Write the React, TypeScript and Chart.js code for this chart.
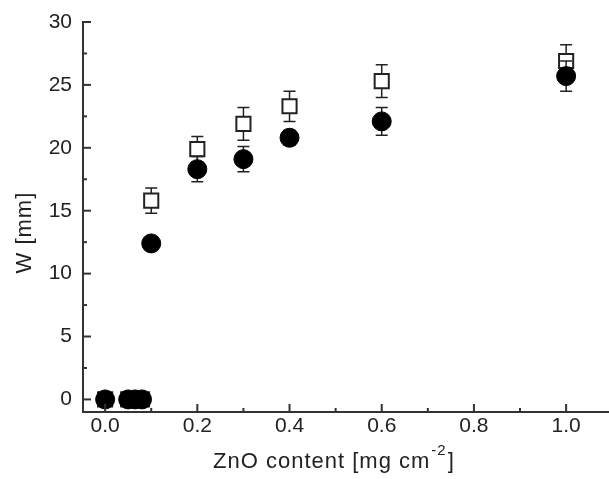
import React, { useEffect, useRef } from "react";
import { Chart, registerables } from "chart.js";

Chart.register(...registerables);

// ZnO content [mg cm^-2]
const znoContent = [0, 0.05, 0.065, 0.08, 0.1, 0.2, 0.3, 0.4, 0.6, 1.0];
// Filled circles
const wFilled = [0, 0, 0, 0, 12.4, 18.3, 19.1, 20.8, 22.1, 25.7];
const errFilled = [0, 0, 0, 0, 0.3, 1.0, 1.0, 0.6, 1.1, 1.2];
// Open squares
const wOpen = [0, 0, 0, 0, 15.8, 19.9, 21.9, 23.3, 25.3, 26.9];
const errOpen = [0, 0, 0, 0, 1.0, 1.0, 1.3, 1.2, 1.3, 1.3];

const xTickValues = [0, 0.1, 0.2, 0.3, 0.4, 0.5, 0.6, 0.7, 0.8, 0.9, 1.0];
const xMajorTicks = [0, 0.2, 0.4, 0.6, 0.8, 1.0];
const yTickValues = [0, 2.5, 5, 7.5, 10, 12.5, 15, 17.5, 20, 22.5, 25, 27.5, 30];
const yMajorTicks = [0, 5, 10, 15, 20, 25, 30];

const xTitleMain = "ZnO content [mg cm";
const xTitleSup = "-2";
const xTitleEnd = "]";
const yTitle = "W [mm]";

const FONT = "'Liberation Sans', Arial, sans-serif";
const INK = "#222";

const errorBarPlugin = {
  id: "errorBars",
  beforeDatasetDraw(chart: any, args: any) {
    const ds = chart.data.datasets[args.index];
    const errs: number[] = ds.errors;
    if (!errs) return;
    const { ctx } = chart;
    const ys = chart.scales.y;
    const meta = chart.getDatasetMeta(args.index);
    ctx.save();
    ctx.strokeStyle = INK;
    ctx.lineWidth = 1.5;
    meta.data.forEach((pt: any, i: number) => {
      const e = errs[i];
      if (!e) return;
      const v = ds.data[i].y;
      const top = ys.getPixelForValue(v + e);
      const bot = ys.getPixelForValue(v - e);
      const x = pt.x;
      ctx.beginPath();
      ctx.moveTo(x, top);
      ctx.lineTo(x, bot);
      ctx.moveTo(x - 6, top);
      ctx.lineTo(x + 6, top);
      ctx.moveTo(x - 6, bot);
      ctx.lineTo(x + 6, bot);
      ctx.stroke();
    });
    ctx.restore();
  },
};

const axisDecorPlugin = {
  id: "axisDecor",
  afterDraw(chart: any) {
    const { ctx, chartArea } = chart;
    const xs = chart.scales.x;
    const ys = chart.scales.y;
    ctx.save();
    ctx.strokeStyle = "#333";
    ctx.lineWidth = 2;
    // inward ticks
    xTickValues.forEach((v) => {
      const px = xs.getPixelForValue(v);
      const len = xMajorTicks.some((m) => Math.abs(m - v) < 1e-9) ? 8 : 4;
      ctx.beginPath();
      ctx.moveTo(px, chartArea.bottom);
      ctx.lineTo(px, chartArea.bottom - len);
      ctx.stroke();
    });
    yTickValues.forEach((v) => {
      const py = ys.getPixelForValue(v);
      const len = yMajorTicks.some((m) => Math.abs(m - v) < 1e-9) ? 8 : 4;
      ctx.beginPath();
      ctx.moveTo(chartArea.left, py);
      ctx.lineTo(chartArea.left + len, py);
      ctx.stroke();
    });
    // axis titles
    ctx.fillStyle = INK;
    ctx.textBaseline = "alphabetic";
    try {
      (ctx as any).letterSpacing = "1px";
    } catch (e) {}
    const mainFont = "22px " + FONT;
    const supFont = "15px " + FONT;
    ctx.font = mainFont;
    const wMain = ctx.measureText(xTitleMain).width;
    ctx.font = supFont;
    const wSup = ctx.measureText(xTitleSup).width;
    ctx.font = mainFont;
    const wEnd = ctx.measureText(xTitleEnd).width;
    const total = wMain + wSup + wEnd + 2;
    const cx = chartArea.left + (chartArea.right - chartArea.left) * 0.477;
    const baseY = chartArea.bottom + 56;
    let x0 = cx - total / 2;
    ctx.textAlign = "left";
    ctx.fillText(xTitleMain, x0, baseY);
    x0 += wMain + 1;
    ctx.font = supFont;
    ctx.fillText(xTitleSup, x0, baseY - 13);
    x0 += wSup + 1;
    ctx.font = mainFont;
    ctx.fillText(xTitleEnd, x0, baseY);

    ctx.save();
    ctx.translate(chartArea.left - 52, chartArea.top + (chartArea.bottom - chartArea.top) * 0.54);
    ctx.rotate(-Math.PI / 2);
    ctx.textAlign = "center";
    ctx.font = mainFont;
    ctx.fillText(yTitle, 0, 0);
    ctx.restore();
    ctx.restore();
  },
};

export default function App() {
  const canvasRef = useRef<HTMLCanvasElement | null>(null);

  useEffect(() => {
    document.body.style.margin = "0";
    const canvas = canvasRef.current;
    if (!canvas) return;
    const chart = new Chart(canvas, {
      type: "scatter",
      data: {
        datasets: [
          {
            label: "filled",
            data: znoContent.map((x, i) => ({ x, y: wFilled[i] })),
            errors: errFilled,
            pointStyle: "circle",
            pointRadius: 9.5,
            pointBorderWidth: 1,
            backgroundColor: "#000",
            borderColor: "#000",
          } as any,
          {
            label: "open",
            data: znoContent.map((x, i) => ({ x, y: wOpen[i] })),
            errors: errOpen,
            pointStyle: "rect",
            pointRadius: 10,
            pointBorderWidth: 2,
            backgroundColor: "#fff",
            borderColor: INK,
          } as any,
        ],
      },
      options: {
        responsive: false,
        animation: false,
        events: [],
        layout: { autoPadding: false, padding: { top: 22, right: 0, left: 0, bottom: 0 } },
        plugins: {
          legend: { display: false },
          tooltip: { enabled: false },
          title: { display: false },
        },
        scales: {
          x: {
            type: "linear",
            min: -0.048,
            max: 1.093,
            afterFit: (s: any) => {
              s.height = 67;
              s.paddingLeft = 0;
              s.paddingRight = 0;
            },
            afterBuildTicks: (s: any) => {
              s.ticks = xTickValues.map((v) => ({ value: v }));
            },
            ticks: {
              autoSkip: false,
              maxRotation: 0,
              padding: 2,
              color: INK,
              font: { family: FONT, size: 21 },
              callback: (v: any) =>
                xMajorTicks.some((m) => Math.abs(m - v) < 1e-9) ? Number(v).toFixed(1) : "",
            },
            grid: { display: false, drawTicks: false },
            border: { display: true, color: "#333", width: 2 },
          },
          y: {
            type: "linear",
            min: -1,
            max: 30,
            afterFit: (s: any) => {
              s.width = 83;
              s.paddingTop = 0;
              s.paddingBottom = 0;
            },
            afterBuildTicks: (s: any) => {
              s.ticks = yTickValues.map((v) => ({ value: v }));
            },
            ticks: {
              autoSkip: false,
              padding: 11,
              color: INK,
              font: { family: FONT, size: 21 },
              callback: (v: any) =>
                yMajorTicks.some((m) => Math.abs(m - v) < 1e-9) ? String(v) : "",
            },
            grid: { display: false, drawTicks: false },
            border: { display: true, color: "#333", width: 2 },
          },
        },
      },
      plugins: [errorBarPlugin, axisDecorPlugin],
    } as any);
    return () => chart.destroy();
  }, []);

  return (
    <div style={{ position: "fixed", left: 0, top: 0, width: 609, height: 479, background: "#fff" }}>
      <canvas ref={canvasRef} width={609} height={479} style={{ display: "block" }} />
    </div>
  );
}
